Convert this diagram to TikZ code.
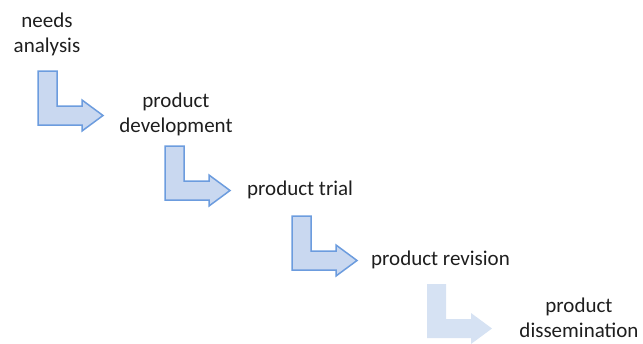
\documentclass[tikz,border=0pt]{standalone}
\usepackage{fontspec}
\setmainfont{Carlito}

\definecolor{arrowfill}{RGB}{201,216,240}
\definecolor{arrowline}{RGB}{108,156,222}
\definecolor{fadedfill}{RGB}{214,226,243}
\definecolor{stagetext}{RGB}{30,30,30}

\begin{document}
\begin{tikzpicture}[x=1pt,y=-1pt,
  stage/.style={inner sep=0pt,align=center,text=stagetext,
                font=\fontsize{21}{25}\selectfont},
  bent/.style={draw=arrowline,fill=arrowfill,line width=1.5pt,line join=miter},
  faded/.style={fill=fadedfill}]

\useasboundingbox (0,0) rectangle (643,343);

% Stages
\node[stage] (needs) at (47,34) {needs\\analysis};
\node[stage] (development) at (176,114) {product\\development};
\node[stage,anchor=base west] (trial) at (247,195) {product trial};
\node[stage,anchor=base west] (revision) at (371,265) {product revision};
\node[stage] (dissemination) at (579,318) {product\\dissemination};

% Bent arrows
\foreach \x/\y/\s in {38/71/bent,165/146/bent,292/216/bent,427/284/faded}
  \path[\s] (\x,\y) -- ++(19,0) -- ++(0,35) -- ++(25,0) -- ++(0,-6)
    -- ++(21,15.5) -- ++(-21,15.5) -- ++(0,-6) -- ++(-44,0) -- cycle;

\end{tikzpicture}
\end{document}
